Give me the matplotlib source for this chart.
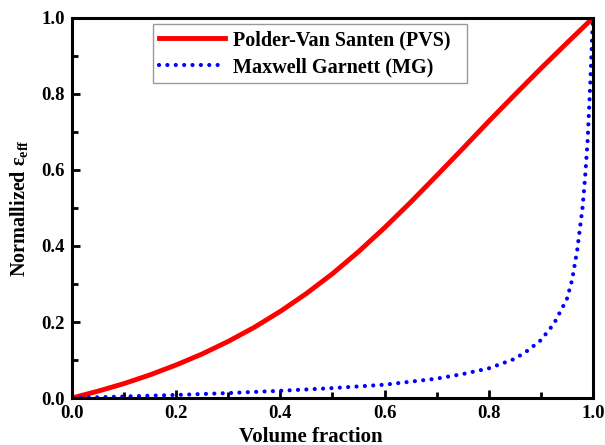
import matplotlib.pyplot as plt

# values
x_pvs = [0.0, 0.05, 0.1, 0.15, 0.2, 0.25, 0.3, 0.35, 0.4, 0.45, 0.5,
         0.55, 0.6, 0.65, 0.7, 0.75, 0.8, 0.85, 0.9, 0.95, 1.0]
y_pvs = [0.0, 0.018, 0.038, 0.061, 0.087, 0.116, 0.149, 0.186, 0.228, 0.275, 0.327,
         0.385, 0.448, 0.515, 0.585, 0.656, 0.728, 0.798, 0.867, 0.934, 1.0]

x_mg = [0.0, 0.1, 0.2, 0.3, 0.4, 0.5, 0.6, 0.7, 0.75, 0.8, 0.85, 0.875,
        0.9, 0.925, 0.95, 0.96, 0.97, 0.98, 0.985, 0.99, 0.995, 1.0]
y_mg = [0.0, 0.004, 0.008, 0.013, 0.019, 0.026, 0.035, 0.051, 0.063, 0.078, 0.103, 0.125,
        0.152, 0.195, 0.260, 0.310, 0.390, 0.500, 0.580, 0.680, 0.830, 1.0]

plt.rcParams['font.family'] = ['Liberation Serif', 'DejaVu Serif']
plt.rcParams['font.weight'] = 'bold'
plt.rcParams['mathtext.fontset'] = 'custom'
plt.rcParams['mathtext.rm'] = 'Liberation Serif:bold'
plt.rcParams['mathtext.it'] = 'Liberation Serif:bold'

fig = plt.figure(figsize=(6.05, 4.45), dpi=100)
ax = fig.add_axes([0.119, 0.1056, 0.861, 0.854])

ax.plot(x_pvs, y_pvs, color='red', linewidth=3.5, label='Polder-Van Santen (PVS)')
ax.plot(x_mg, y_mg, color='blue', linewidth=3.0, linestyle=(0, (0.01, 2.0)),
        dash_capstyle='round', label='Maxwell Garnett (MG)')

ax.set_xlim(0, 1)
ax.set_ylim(0, 1)
ax.set_xticks([0.0, 0.2, 0.4, 0.6, 0.8, 1.0])
ax.set_yticks([0.0, 0.2, 0.4, 0.6, 0.8, 1.0])
ax.set_xticks([0.1, 0.3, 0.5, 0.7, 0.9], minor=True)
ax.set_yticks([0.1, 0.3, 0.5, 0.7, 0.9], minor=True)
ax.tick_params(which='major', direction='in', length=6, width=2, labelsize=13.5, pad=5)
ax.tick_params(which='minor', direction='in', length=4, width=2)
for s in ax.spines.values():
    s.set_linewidth(2.2)

ax.set_xlabel('Volume fraction', fontsize=15, fontweight='bold', labelpad=1)
ax.xaxis.set_label_coords(0.459, -0.075)
ax.set_ylabel(r'Normallized $\mathregular{\epsilon_{eff}}$', fontsize=14.5, fontweight='bold', labelpad=8)

leg = ax.legend(loc='upper left', bbox_to_anchor=(0.1555, 0.824, 0.603, 0.16),
                mode='expand', borderaxespad=0,
                fontsize=14.5, handlelength=3.3, fancybox=False, edgecolor='#999999',
                framealpha=1, borderpad=0.3, labelspacing=0.35, handletextpad=0.35)
leg.get_frame().set_linewidth(1.0)

fig.savefig('out.png', dpi=100)
